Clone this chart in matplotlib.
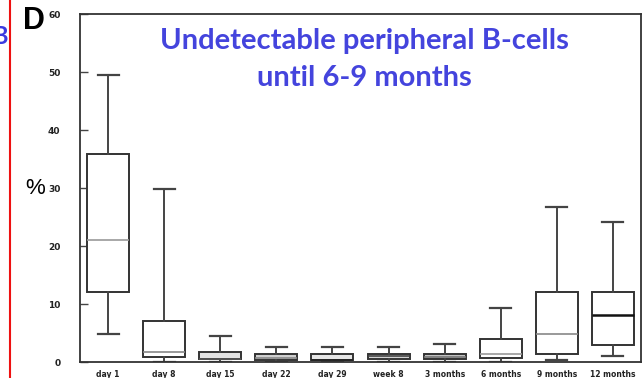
import matplotlib
matplotlib.use("Agg")
import matplotlib.pyplot as plt
from matplotlib.lines import Line2D

categories = ["day 1", "day 8", "day 15", "day 22", "day 29", "week 8",
              "3 months", "6 months", "9 months", "12 months"]
whislo = [4.8, 0.0, 0.0, 0.0, 0.0, 0.0, 0.0, 0.0, 0.3, 1.0]
q1     = [12.1, 0.9, 0.5, 0.4, 0.3, 0.6, 0.5, 0.7, 1.4, 2.9]
med    = [21.0, 1.8, 0.6, 0.7, 0.4, 1.0, 0.9, 1.4, 4.8, 8.1]
q3     = [35.9, 7.1, 1.7, 1.4, 1.4, 1.4, 1.4, 4.0, 12.1, 12.1]
whishi = [49.5, 29.8, 4.5, 2.6, 2.6, 2.6, 3.1, 9.3, 26.7, 24.1]
yticks = [0, 10, 20, 30, 40, 50, 60]

box_fill = ["white", "white", "#e2e2e2", "#cfcfcf", "#e6e6e6", "#d2d2d2",
            "#c2c2c2", "white", "white", "white"]
med_color = ["#999999", "#888888", "#555555", "#888888", "#222222", "#444444",
             "#777777", "#999999", "#888888", "#111111"]

W, H = 644, 378
fig = plt.figure(figsize=(W / 100, H / 100), dpi=100)
ax = fig.add_axes([80 / W, 16 / H, (641 - 80) / W, (362 - 14) / H])

stats = []
for i, c in enumerate(categories):
    stats.append(dict(label=c, whislo=whislo[i], q1=q1[i], med=med[i],
                      q3=q3[i], whishi=whishi[i], fliers=[]))

bp = ax.bxp(stats, positions=range(1, len(categories) + 1), widths=0.75,
            showfliers=False, patch_artist=True,
            boxprops=dict(edgecolor="#333333", linewidth=1.4),
            whiskerprops=dict(color="#444444", linewidth=1.4),
            capprops=dict(color="#444444", linewidth=1.6),
            medianprops=dict(color="#888888", linewidth=1.2))
for i, b in enumerate(bp["boxes"]):
    b.set_facecolor(box_fill[i])
for i, m in enumerate(bp["medians"]):
    m.set_color(med_color[i])
    if i == len(categories) - 1:
        m.set_linewidth(1.8)

ax.set_xlim(0.5, 10.5)
ax.set_ylim(0, 60)
ax.set_yticks(yticks)
ax.set_yticklabels([str(v) for v in yticks], fontsize=6.5,
                   fontweight="bold", color="#222222")
ax.tick_params(axis="y", direction="in", length=6, width=1, pad=14,
               color="#444444")
ax.tick_params(axis="x", length=0, pad=6, labelsize=5.5, labelcolor="#222222")
for lab in ax.get_xticklabels():
    lab.set_fontweight("bold")
for s in ax.spines.values():
    s.set_color("#333333")
    s.set_linewidth(1.3)

# y label
fig.text(35 / W, 1 - 189 / H, "%", fontsize=16, ha="center", va="center",
         family="Liberation Sans")
# panel letter
fig.text(23 / W, 1 - 21 / H, "D", fontsize=22, fontweight="bold",
         ha="left", va="center", family="Liberation Sans")
# cropped blue B from neighbouring panel
fig.text(8 / W, 1 - 36 / H, "B", fontsize=17, fontweight="bold",
         color="#3a3ae0", ha="right", va="center", family="Lato")
# red vertical line
fig.add_artist(Line2D([10 / W, 10 / W], [0, 1], color="#ee1111",
                      linewidth=1.5, transform=fig.transFigure))

# blue annotation
fig.text(364 / W, 1 - 41 / H, "Undetectable peripheral B-cells",
         fontsize=21, fontweight="bold", color="#4444dd",
         ha="center", va="center", family="Lato")
fig.text(364 / W, 1 - 78 / H, "until 6-9 months",
         fontsize=21, fontweight="bold", color="#4444dd",
         ha="center", va="center", family="Lato")

fig.savefig("out.png", dpi=100)
